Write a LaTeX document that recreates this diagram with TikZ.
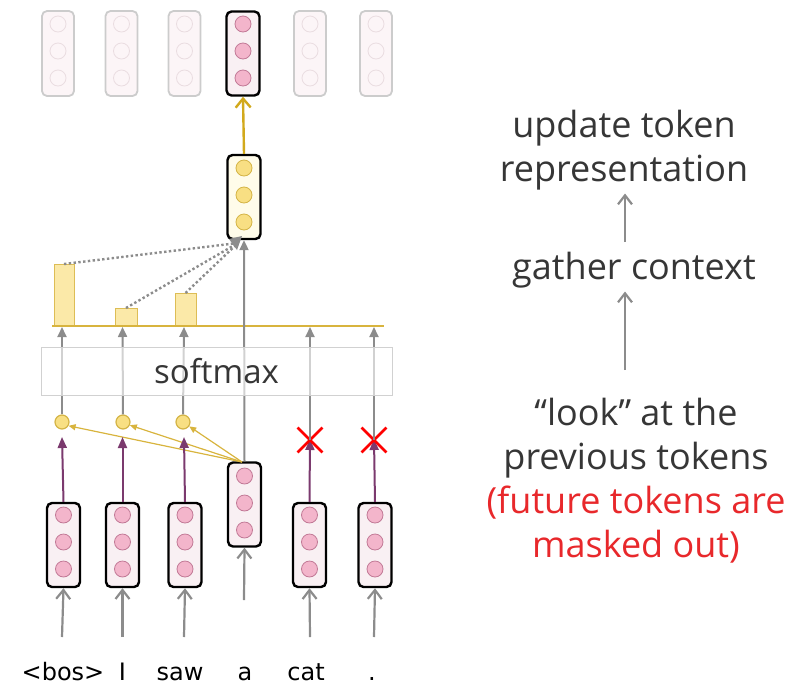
\documentclass[tikz,border=0pt]{standalone}
\usepackage{fontspec}
\setmainfont{Open Sans}
\newfontfamily\wordfont{DejaVu Sans}
\usetikzlibrary{arrows.meta,shapes.misc}
\definecolor{boxpink}{HTML}{F9F0F3}
\definecolor{cpink}{HTML}{F3B5CB}
\definecolor{cpinkd}{HTML}{C27A97}
\definecolor{fadepink}{HTML}{FCF5F7}
\definecolor{fadecirc}{HTML}{EADDE1}
\definecolor{cyel}{HTML}{F8DF83}
\definecolor{cyeld}{HTML}{D4B446}
\definecolor{boxyel}{HTML}{FFFCEA}
\definecolor{baryel}{HTML}{FBE9A8}
\definecolor{baryeld}{HTML}{DDBD55}
\definecolor{lineyel}{HTML}{D8B43E}
\definecolor{arryel}{HTML}{D2A91C}
\definecolor{purp}{HTML}{7B3A6E}
\definecolor{arrgray}{HTML}{8C8C8C}
\definecolor{txtgray}{HTML}{363636}
\definecolor{txtred}{HTML}{E8282B}
\begin{document}
\begin{tikzpicture}[x=1pt,y=-1pt,
  vecbox/.style={draw=black, line width=2.4pt, rounded corners=5pt, fill=boxpink,
    minimum width=33pt, minimum height=84pt, inner sep=0pt},
  yelbox/.style={vecbox, fill=boxyel},
  fadebox/.style={draw=black!20, line width=1.8pt, rounded corners=5pt, fill=fadepink,
    minimum width=32pt, minimum height=85pt, inner sep=0pt},
  pcirc/.style={circle, draw=cpinkd, fill=cpink, line width=0.8pt, minimum size=16pt, inner sep=0pt},
  fcirc/.style={circle, draw=fadecirc, fill=fadepink, line width=0.8pt, minimum size=16pt, inner sep=0pt},
  ycirc/.style={circle, draw=cyeld, fill=cyel, line width=0.8pt, minimum size=16pt, inner sep=0pt},
  ysmall/.style={circle, draw=cyeld, fill=cyel, line width=1.2pt, minimum size=14pt, inner sep=0pt},
  bar/.style={draw=baryeld, fill=baryel, line width=1pt, minimum width=20pt, inner sep=0pt, anchor=south},
  barbarrow/.style={draw=arrgray, line width=2.2pt, -{Straight Barb[length=9pt,width=14pt]}},
  grayarrow/.style={draw=arrgray, line width=2pt, -{Triangle[length=10pt,width=9pt]}},
  purparrow/.style={draw=purp, line width=2pt, -{Triangle[length=11pt,width=9pt]}},
  yelthin/.style={draw=lineyel, line width=1.2pt, -{Triangle[length=7pt,width=6pt]}},
  dotline/.style={draw=arrgray, line width=2.4pt, dash pattern=on 2.4pt off 2.4pt},
  xmark/.style={draw=red, cross out, line width=2.8pt, minimum size=22pt, inner sep=0pt},
  word/.style={font=\wordfont\fontsize{24}{24}\selectfont, text=black, anchor=base},
  sidetxt/.style={font=\fontsize{36}{44}\selectfont, text=txtgray, align=center},
]
\useasboundingbox (0,0) rectangle (788,686);

% ---------- top (faded) output row ----------
\foreach \n/\x in {1/58,2/121.5,3/184.5,5/310,6/376}{
  \node[fadebox] (t\n) at (\x,53.5) {};
  \node[fcirc] (t\n a) at (\x,24) {};
  \node[fcirc] (t\n b) at (\x,51) {};
  \node[fcirc] (t\n c) at (\x,78) {};
}
\node[vecbox] (t4) at (243,53.5) {};
\node[pcirc] (t4a) at (243,24) {};
\node[pcirc] (t4b) at (243,51) {};
\node[pcirc] (t4c) at (243,78) {};

% ---------- yellow gathered vector ----------
\node[yelbox] (yb) at (244,197) {};
\node[ycirc] (yba) at (244,168) {};
\node[ycirc] (ybb) at (244,195) {};
\node[ycirc] (ybc) at (244,222) {};
\draw[draw=arryel, line width=2.4pt, -{Straight Barb[length=9pt,width=15pt]}] (yb.north) -- (t4.south);

% ---------- bars ----------
\coordinate (bl0) at (52,326);
\coordinate (bl7) at (384,326);
\foreach \n/\x in {1/62,2/122.5,3/184,4/244,5/310,6/374}{
  \coordinate (bl\n) at (\x,327);
}
\node[bar, minimum height=61pt] (bar1) at (64,326) {};
\node[bar, minimum height=17pt, minimum width=22pt] (bar2) at (126,326) {};
\node[bar, minimum height=32pt, minimum width=21pt] (bar3) at (185.5,326) {};
\draw[draw=lineyel, line width=2pt] (bl0) -- (bl7);

% dotted attention lines
\coordinate (conv) at (238,243);
\draw[dotline] (bar1.north) -- (conv);
\draw[dotline] (bar2.north) -- (conv);
\draw[dotline] (bar3.north) -- (conv);
\fill[arrgray] (conv) ++(-9,-4) -- ++(13,-3) -- ++(-5,14) -- cycle;

% ---------- bottom input row ----------
\foreach \n/\x in {1/63.5,2/122.5,3/185,5/309.5,6/375}{
  \node[vecbox] (b\n) at (\x,545) {};
  \node[pcirc] (b\n a) at (\x,515) {};
  \node[pcirc] (b\n b) at (\x,542) {};
  \node[pcirc] (b\n c) at (\x,569) {};
}
\node[vecbox] (b4) at (244.5,504.5) {};
\node[pcirc] (b4a) at (244.5,476) {};
\node[pcirc] (b4b) at (244.5,503) {};
\node[pcirc] (b4c) at (244.5,530) {};

% query/key scores
\node[ysmall] (s1) at (62,422) {};
\node[ysmall] (s2) at (123,422) {};
\node[ysmall] (s3) at (183,422) {};
\coordinate (q) at (242,462);
\draw[yelthin] (q) -- (s1.-30);
\draw[yelthin] (q) -- (s2.-25);
\draw[yelthin] (q) -- (s3.-35);

% purple arrows
\coordinate (p1) at (62,437);
\coordinate (p2) at (122.5,437);
\coordinate (p3) at (184,437);
\coordinate (p5) at (310,439);
\coordinate (p6) at (374,439);
\draw[purparrow] (b1.north) -- (p1);
\draw[purparrow] (b2.north) -- (p2);
\draw[purparrow] (b3.north) -- (p3);
\draw[purparrow] (b5.north) -- (p5);
\draw[purparrow] (b6.north) -- (p6);

% masked
\node[xmark] (x5) at (310,440) {};
\node[xmark] (x6) at (374,440) {};

% gray arrows to the softmax line
\draw[grayarrow] (s1.north) -- (bl1);
\draw[grayarrow] (s2.north) -- (bl2);
\draw[grayarrow] (s3.north) -- (bl3);
\draw[grayarrow] (x5.center) -- (bl5);
\draw[grayarrow] (x6.center) -- (bl6);
\draw[grayarrow] (b4.north) -- (yb.south);

% softmax box (semi-transparent)
\node[draw=black!18, line width=0.8pt, fill=white, fill opacity=0.6, text opacity=1,
      minimum width=351pt, minimum height=48pt, inner sep=0pt,
      font=\fontsize{33}{33}\selectfont, text=txtgray] (smax) at (216.5,371) {softmax};

% ---------- words ----------
\node[word] (w1) at (63,680) {<bos>};
\node[word] (w2) at (122.5,680) {I};
\node[word] (w3) at (180,680) {saw};
\node[word] (w4) at (245,680) {a};
\node[word] (w5) at (306,680) {cat};
\node[word] (w6) at (372,680) {.};
\coordinate (u1) at (62,637);
\coordinate (u2) at (122.5,637);
\coordinate (u3) at (184,637);
\coordinate (u4) at (244,600);
\coordinate (u5) at (310,637);
\coordinate (u6) at (374,637);
\draw[barbarrow] (u1) -- (b1.south);
\draw[barbarrow] (u2) -- (b2.south);
\draw[barbarrow] (u3) -- (b3.south);
\draw[barbarrow] (u4) -- (b4.south);
\draw[barbarrow] (u5) -- (b5.south);
\draw[barbarrow] (u6) -- (b6.south);

% ---------- right-hand explanation ----------
\node[sidetxt] (r1) at (624,150) {update token\\representation};
\node[sidetxt] (r2) at (634,270) {gather context};
\node[sidetxt] (r3) at (636,481) {“look” at the\\previous tokens\\\textcolor{txtred}{(future tokens are}\\\textcolor{txtred}{masked out)}};
\coordinate (ra1) at (625,242);
\coordinate (ra2) at (625,370);
\draw[barbarrow] (ra1) -- (r1.south -| ra1);
\draw[barbarrow] (ra2) -- (r2.south -| ra2);
\end{tikzpicture}
\end{document}
